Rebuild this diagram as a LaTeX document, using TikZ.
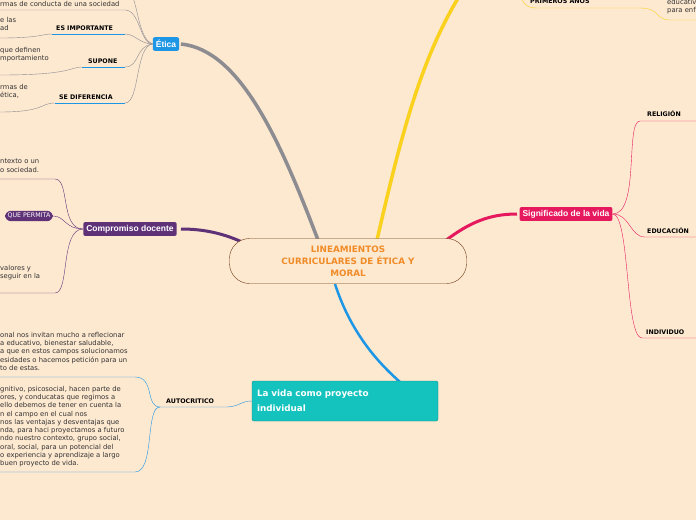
\documentclass[tikz,border=0pt]{standalone}
\usepackage{fontspec}
\setmainfont{DejaVu Sans}
\newfontfamily\nodefont{Liberation Sans}
\usetikzlibrary{positioning}
\definecolor{bg}{RGB}{253,232,208}
\definecolor{etica}{RGB}{30,150,230}
\definecolor{compro}{RGB}{95,50,120}
\definecolor{signi}{RGB}{230,25,95}
\definecolor{vida}{RGB}{20,195,190}
\definecolor{vidaline}{RGB}{20,140,135}
\definecolor{centro}{RGB}{240,140,40}
\definecolor{brown}{RGB}{110,60,20}
\definecolor{gris}{RGB}{140,140,145}
\definecolor{amarillo}{RGB}{250,210,30}
\definecolor{azul}{RGB}{30,150,230}
\tikzset{
  topic/.style={rounded corners=2pt, inner sep=3pt, text=white, font=\nodefont\bfseries\fontsize{8.5}{10}\selectfont},
  lbl/.style={font=\bfseries\fontsize{6.3}{7}\selectfont, inner sep=0pt, anchor=base west},
  para/.style={font=\fontsize{6.8}{8.25}\selectfont, align=left, inner sep=0pt, anchor=north west, text=black!80},
}
\begin{document}
\begin{tikzpicture}[x=1pt,y=-1pt]
    \fill [bg] (0,0) rectangle (696,520);
    \useasboundingbox (0,0) rectangle (696,520);
    \clip (0,0) rectangle (696,520);
    % Main branches
    \draw [gris,line width=3.5pt] (318,240) .. controls (280,140) and (240,50) .. (181,44);
    \draw [amarillo,line width=3.5pt] (377,240) .. controls (400,140) and (420,60) .. (460,-5);
    \draw [signi,line width=3pt] (445,241) .. controls (470,222) and (490,214) .. (517,214);
    \draw [compro,line width=3pt] (242,242) .. controls (220,232) and (200,229) .. (181,229);
    \draw [azul,line width=2.5pt] (335,284) .. controls (350,330) and (375,360) .. (400,382);
    % Central node
    \node [draw=brown, fill=bg, rounded corners=20pt, minimum width=237pt, minimum height=45pt,
      text=centro, align=center, font=\bfseries\fontsize{8.8}{12}\selectfont] (main) at (348,261)
      {LINEAMIENTOS\\CURRICULARES DE ÉTICA Y\\MORAL};
    % Topics
    \node [topic, fill=etica] (etica) at (166,44) {Ética};
    \node [topic, fill=compro] (compro) at (130,229) {Compromiso docente};
    \node [topic, fill=signi] (signi) at (566,214) {Significado de la vida};
    \node [draw=vidaline, fill=vida, rounded corners=2pt, minimum width=186pt, minimum height=40pt,
      text width=176pt, align=left, text=white, font=\bfseries\fontsize{8.8}{15}\selectfont] (vida) at (345,401)
      {La vida como proyecto\\individual};
    % Etica children
    \draw [gris, thin] (etica.west) .. controls (140,44) and (140,10) .. (125,10) -- (0,10);
    \draw [gris, thin] (etica.west) .. controls (140,40) and (138,10) .. (133,-2);
    \node [para] at (0,1) {rmas de conducta de una sociedad};
    \node [lbl] (imp) at (56,30) {ES IMPORTANTE};
    \draw [azul] (52,34) -- (125,34);
    \draw [gris, thin] (etica.west) .. controls (140,44) and (135,34) .. (125,34);
    \draw [gris, thin] (52,34) .. controls (42,34) and (40,38) .. (0,38);
    \node [para] at (0,17) {e las\\ad};
    \node [lbl] (sup) at (88,63) {SUPONE};
    \draw [azul] (82,67) -- (125,67);
    \draw [gris, thin] (etica.west) .. controls (135,46) and (140,67) .. (125,67);
    \draw [gris, thin] (82,67) .. controls (70,67) and (72,75) .. (0,75);
    \node [para] at (0,47) {que definen\\mportamiento};
    \node [lbl] (dif) at (59,99) {SE DIFERENCIA};
    \draw [azul] (55,103) -- (125,103);
    \draw [gris, thin] (etica.west) .. controls (135,46) and (140,103) .. (125,103);
    \draw [gris, thin] (55,103) .. controls (40,103) and (45,112) .. (0,112);
    \node [para] at (0,84) {rmas de\\ética,};
    % Compromiso children
    \node [fill=compro, rounded corners=6pt, text=white, inner sep=2.5pt, font=\fontsize{6.3}{7}\selectfont, anchor=east] (permita) at (53,216) {QUE PERMITA};
    \draw [compro] (permita.east) .. controls (65,216) and (65,229) .. (compro.west);
    \draw [compro] (compro.west) .. controls (60,229) and (70,179) .. (55,179) -- (0,179);
    \draw [compro] (compro.west) .. controls (60,229) and (70,293) .. (55,293) -- (0,293);
    \node [para] at (0,159) {ntexto o un\\o sociedad.};
    \node [para] at (0,265) {valores y\\seguir en la};
    % Significado children
    \node [lbl] (rel) at (647,116) {RELIGIÓN};
    \draw [signi] (signi.east) .. controls (640,214) and (625,121) .. (640,121) -- (696,121);
    \node [lbl] (edu) at (647,233) {EDUCACIÓN};
    \draw [signi] (signi.east) .. controls (630,214) and (630,237) .. (645,237) -- (696,237);
    \node [lbl] (ind) at (646,334) {INDIVIDUO};
    \draw [signi] (signi.east) .. controls (630,214) and (625,338) .. (642,338) -- (696,338);
    % Top right
    \node [lbl] at (530,3) {PRIMEROS AÑOS};
    \draw [amarillo] (520,-5) .. controls (525,8) and (530,8) .. (540,8) -- (640,8) .. controls (660,8) and (655,20) .. (670,20) -- (696,20);
    \node [para] at (667,-1) {educativ\\para enf};
    % La vida children
    \node [lbl] (auto) at (166,403) {AUTOCRITICO};
    \draw [azul] (vida.west) .. controls (240,401) and (240,407) .. (225,407) -- (160,407);
    \draw [azul] (160,407) .. controls (145,407) and (155,377) .. (135,377) -- (0,377);
    \draw [azul] (160,407) .. controls (145,407) and (155,472) .. (135,472) -- (0,472);
    \node [para] at (0,332) {onal nos invitan mucho a reflecionar\\a educativo, bienestar saludable,\\a que en estos campos solucionamos\\esidades o hacemos petición para un\\to de estas.};
    \node [para] at (0,386) {gnitivo, psicosocial, hacen parte de\\ores, y conducatas que regimos a\\ello debemos de tener en cuenta la\\n el campo en el cual nos\\nos las ventajas y desventajas que\\nda, para haci proyectamos a futuro\\ndo nuestro contexto, grupo social,\\oral, social, para un potencial del\\o experiencia y aprendizaje a largo\\buen proyecto de vida.};
\end{tikzpicture}
\end{document}
